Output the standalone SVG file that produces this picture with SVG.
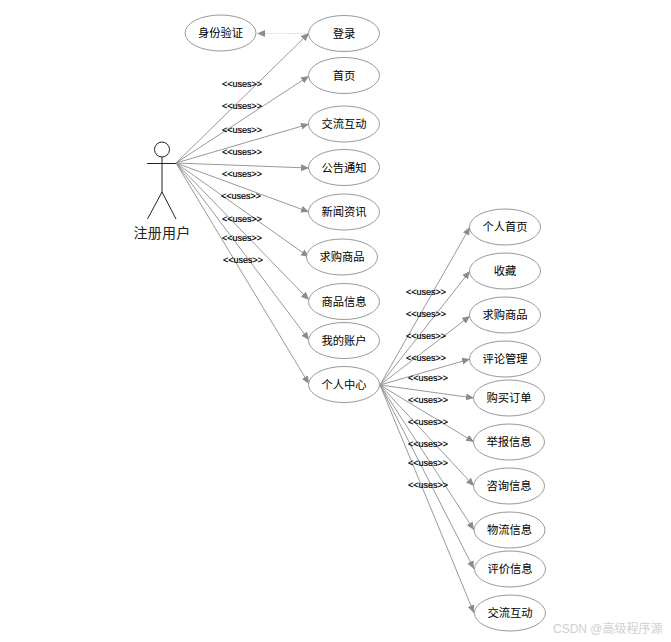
<svg xmlns="http://www.w3.org/2000/svg" width="671" height="642" viewBox="0 0 671 642">
<style>
.n ellipse{fill:#fff;stroke:#999;stroke-width:1}
.n text{font:11.300px "Noto Sans CJK SC","Liberation Sans",sans-serif;fill:#000;text-anchor:middle}
.c line{stroke:#999;stroke-width:1;marker-end:url(#a)}
.u{font:9px "Liberation Sans",sans-serif;fill:#000;text-anchor:middle;stroke:#000;stroke-width:.2}
.actor line,.actor circle{stroke:#222;stroke-width:1;fill:#fff}
</style>
<defs><marker id="a" markerUnits="userSpaceOnUse" markerWidth="9" markerHeight="8" refX="8" refY="4" orient="auto"><path d="M0 .5L8 4L0 7.500Z" fill="#8c8c8c"/></marker></defs>
<rect width="671" height="642" fill="#fff"/>
<g class="c" id="connectors">
<line x1="308" y1="33.500" x2="257" y2="33.500" stroke-dasharray="2 1" style="stroke:#ddd"/>
<line x1="176" y1="163" x2="309" y2="33"/>
<line x1="176" y1="163" x2="309" y2="76"/>
<line x1="176" y1="163" x2="309" y2="124"/>
<line x1="176" y1="163" x2="309" y2="168"/>
<line x1="176" y1="163" x2="309" y2="212"/>
<line x1="176" y1="163" x2="309" y2="257"/>
<line x1="176" y1="163" x2="309" y2="300"/>
<line x1="176" y1="163" x2="309" y2="340"/>
<line x1="176" y1="163" x2="309" y2="384"/>
<line x1="380" y1="385" x2="470" y2="227"/>
<line x1="380" y1="385" x2="470" y2="271"/>
<line x1="380" y1="385" x2="470" y2="316"/>
<line x1="380" y1="385" x2="470" y2="359"/>
<line x1="380" y1="385" x2="474" y2="398"/>
<line x1="380" y1="385" x2="474" y2="442"/>
<line x1="380" y1="385" x2="474" y2="486"/>
<line x1="380" y1="385" x2="474" y2="530"/>
<line x1="380" y1="385" x2="474" y2="569"/>
<line x1="380" y1="385" x2="474" y2="613"/>
</g>
<g id="uses">
<text class="u" x="242" y="87">&lt;&lt;uses&gt;&gt;</text>
<text class="u" x="242" y="109">&lt;&lt;uses&gt;&gt;</text>
<text class="u" x="242" y="133">&lt;&lt;uses&gt;&gt;</text>
<text class="u" x="242" y="155">&lt;&lt;uses&gt;&gt;</text>
<text class="u" x="242" y="177">&lt;&lt;uses&gt;&gt;</text>
<text class="u" x="241" y="199">&lt;&lt;uses&gt;&gt;</text>
<text class="u" x="242" y="222">&lt;&lt;uses&gt;&gt;</text>
<text class="u" x="242" y="241">&lt;&lt;uses&gt;&gt;</text>
<text class="u" x="243" y="263">&lt;&lt;uses&gt;&gt;</text>
<text class="u" x="426" y="295">&lt;&lt;uses&gt;&gt;</text>
<text class="u" x="426" y="317">&lt;&lt;uses&gt;&gt;</text>
<text class="u" x="426" y="339">&lt;&lt;uses&gt;&gt;</text>
<text class="u" x="426" y="361">&lt;&lt;uses&gt;&gt;</text>
<text class="u" x="428" y="381">&lt;&lt;uses&gt;&gt;</text>
<text class="u" x="428" y="403">&lt;&lt;uses&gt;&gt;</text>
<text class="u" x="428" y="425">&lt;&lt;uses&gt;&gt;</text>
<text class="u" x="428" y="447">&lt;&lt;uses&gt;&gt;</text>
<text class="u" x="428" y="466">&lt;&lt;uses&gt;&gt;</text>
<text class="u" x="428" y="488">&lt;&lt;uses&gt;&gt;</text>
</g>
<g class="actor" id="actor">
<circle cx="162" cy="149.500" r="7.500"/>
<line x1="162" y1="157" x2="162" y2="192"/>
<line x1="147" y1="163.500" x2="176" y2="163.500"/>
<line x1="162" y1="192" x2="147.500" y2="219"/>
<line x1="162" y1="192" x2="176" y2="219"/>
<text x="162" y="238" style="font:14px 'Noto Sans CJK SC',sans-serif;text-anchor:middle;fill:#222;stroke:none;letter-spacing:.3px">注册用户</text>
</g>
<g class="n" id="n1"><ellipse cx="220.500" cy="33" rx="35.500" ry="18"/><text x="220.500" y="37">身份验证</text></g>
<g class="n" id="n2"><ellipse cx="344" cy="33.500" rx="35.500" ry="18"/><text x="344" y="37.500">登录</text></g>
<g class="n" id="n3"><ellipse cx="344" cy="75.500" rx="35.500" ry="18"/><text x="344" y="79.500">首页</text></g>
<g class="n" id="n4"><ellipse cx="344" cy="124" rx="35.500" ry="18"/><text x="344" y="128">交流互动</text></g>
<g class="n" id="n5"><ellipse cx="344" cy="167.500" rx="35.500" ry="18"/><text x="344" y="171.500">公告通知</text></g>
<g class="n" id="n6"><ellipse cx="344" cy="212" rx="35.500" ry="18"/><text x="344" y="216">新闻资讯</text></g>
<g class="n" id="n7"><ellipse cx="342" cy="257" rx="35.500" ry="18"/><text x="342" y="261">求购商品</text></g>
<g class="n" id="n8"><ellipse cx="344" cy="301.500" rx="35.500" ry="18"/><text x="344" y="305.500">商品信息</text></g>
<g class="n" id="n9"><ellipse cx="344" cy="340.500" rx="35.500" ry="18"/><text x="344" y="344.500">我的账户</text></g>
<g class="n" id="n10"><ellipse cx="344" cy="384.500" rx="35.500" ry="18"/><text x="344" y="388.500">个人中心</text></g>
<g class="n" id="m1"><ellipse cx="505" cy="227" rx="35.500" ry="18"/><text x="505" y="231">个人首页</text></g>
<g class="n" id="m2"><ellipse cx="505" cy="271" rx="35.500" ry="18"/><text x="505" y="275">收藏</text></g>
<g class="n" id="m3"><ellipse cx="505" cy="315" rx="35.500" ry="18"/><text x="505" y="319">求购商品</text></g>
<g class="n" id="m4"><ellipse cx="505" cy="359" rx="35.500" ry="18"/><text x="505" y="363">评论管理</text></g>
<g class="n" id="m5"><ellipse cx="509" cy="398" rx="35.500" ry="18"/><text x="509" y="402">购买订单</text></g>
<g class="n" id="m6"><ellipse cx="509" cy="442" rx="35.500" ry="18"/><text x="509" y="446">举报信息</text></g>
<g class="n" id="m7"><ellipse cx="509" cy="486" rx="35.500" ry="18"/><text x="509" y="490">咨询信息</text></g>
<g class="n" id="m8"><ellipse cx="509.500" cy="530" rx="35.500" ry="18"/><text x="509.500" y="534">物流信息</text></g>
<g class="n" id="m9"><ellipse cx="510" cy="569" rx="35.500" ry="18"/><text x="510" y="573">评价信息</text></g>
<g class="n" id="m10"><ellipse cx="510" cy="613" rx="35.500" ry="18"/><text x="510" y="617">交流互动</text></g>
<text x="553" y="633" style="font:12px 'Liberation Sans','Noto Sans CJK SC',sans-serif;fill:#d0d0d0">CSDN @高级程序源</text>
</svg>
